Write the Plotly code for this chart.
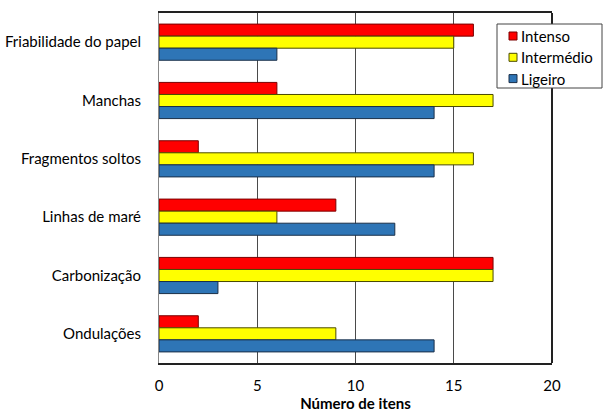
import plotly.graph_objects as go

categories = ["Friabilidade do papel", "Manchas", "Fragmentos soltos",
              "Linhas de maré", "Carbonização", "Ondulações"]
intenso = [16, 6, 2, 9, 17, 2]
intermedio = [15, 17, 16, 6, 17, 9]
ligeiro = [6, 14, 14, 12, 3, 14]
x_ticks = [0, 5, 10, 15, 20]

series = [
    ("Intenso", intenso, "#FF0000", "#7a0000"),
    ("Intermédio", intermedio, "#FFFF00", "#4a4a00"),
    ("Ligeiro", ligeiro, "#2E75B6", "#1a2f48"),
]

W, H = 603, 414
ML, MR, MT, MB = 159, 51, 13, 51
PW, PH = W - ML - MR, H - MT - MB


def px_x(px):
    return (px - ML) / PW


def px_y(py):
    return (H - MB - py) / PH


fig = go.Figure()
for name, vals, fill, edge in series:
    fig.add_trace(go.Bar(
        y=categories, x=vals, name=name, orientation="h", showlegend=False,
        marker=dict(color=fill, line=dict(color=edge, width=1)),
    ))

font = "Lato, Carlito, Calibri, sans-serif"
fig.update_layout(
    width=W, height=H,
    margin=dict(l=ML, r=MR, t=MT, b=MB, autoexpand=False),
    paper_bgcolor="white", plot_bgcolor="white",
    barmode="group", bargap=0.38, bargroupgap=0,
    font=dict(family=font, size=15, color="#000"),
    xaxis=dict(
        range=[0, 20], tickvals=x_ticks, ticks="", ticklen=0,
        showgrid=True, gridcolor="#4a4a4a", gridwidth=1,
        showline=True, linecolor="#222", linewidth=1.5, mirror=True,
        zeroline=False, tickfont=dict(size=15), ticklabelstandoff=8,
        title=dict(text="<b>Número de itens</b>", font=dict(size=15), standoff=5),
    ),
    yaxis=dict(
        autorange="reversed", showgrid=False, ticks="",
        showline=True, linecolor="#888", linewidth=1, mirror=False,
        tickfont=dict(size=15), ticklabelstandoff=14,
    ),
)

# heavier right edge of the plot frame
fig.add_shape(type="line", xref="paper", yref="paper", x0=1, x1=1, y0=0, y1=1,
              line=dict(color="#222", width=2), layer="above")

# legend box with compact swatches
fig.add_shape(type="rect", xref="paper", yref="paper",
              x0=px_x(497), x1=px_x(602), y0=px_y(88), y1=px_y(24),
              fillcolor="white", line=dict(color="#444", width=1), layer="above")
for i, (name, _vals, fill, edge) in enumerate(series):
    cy = 36 + i * 21.3
    fig.add_shape(type="rect", xref="paper", yref="paper",
                  x0=px_x(509), x1=px_x(517), y0=px_y(cy + 4), y1=px_y(cy - 4),
                  fillcolor=fill, line=dict(color=edge, width=1), layer="above")
    fig.add_annotation(xref="paper", yref="paper", x=px_x(519), y=px_y(cy),
                       text=name, showarrow=False, xanchor="left", yanchor="middle",
                       font=dict(size=15, family=font, color="#000"))

fig.write_html("out.html")
